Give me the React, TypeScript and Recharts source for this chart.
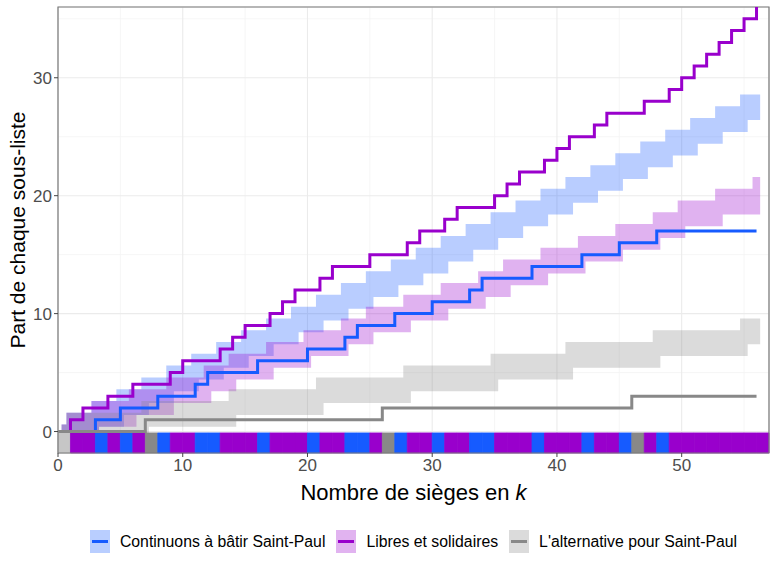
import React from "react";
import {
  ComposedChart,
  Area,
  Line,
  XAxis,
  YAxis,
  CartesianGrid,
  ReferenceArea,
  Label,
} from "recharts";

const FONT = "'Liberation Sans', Arial, Helvetica, sans-serif";

const LIST_NAMES = [
  "Continuons à bâtir Saint-Paul",
  "Libres et solidaires",
  "L'alternative pour Saint-Paul",
];
const LIST_COLORS = ["#165bff", "#9900cc", "#888888"];
const NO_LIST_COLOR = "#c6c6c6";

// who gets seat 1..57 (0 = Continuons, 1 = Libres, 2 = L'alternative, -1 = none)
const seatOrder = [
  -1, 1, 1, 0, 1, 0, 1, 2, 0, 1,
  1, 0, 0, 1, 1, 1, 0, 1, 1, 1,
  0, 1, 1, 0, 0, 1, 2, 0, 1, 1,
  0, 1, 1, 0, 0, 1, 1, 1, 0, 1,
  1, 1, 0, 1, 1, 0, 2, 1, 0, 1,
  1, 1, 1, 1, 1, 1, 1,
];

// seats held by each list, drawn at k = 0..56
const contSeats = [
  0, 0, 0, 1, 1, 2, 2, 2, 3, 3, 3, 4, 5, 5, 5, 5, 6, 6, 6, 6,
  7, 7, 7, 8, 9, 9, 9, 10, 10, 10, 11, 11, 11, 12, 13, 13, 13, 13, 14, 14,
  14, 14, 15, 15, 15, 16, 16, 16, 17, 17, 17, 17, 17, 17, 17, 17, 17,
];
const libresSeats = [
  0, 1, 2, 2, 3, 3, 4, 4, 4, 5, 6, 6, 6, 7, 8, 9, 9, 10, 11, 12,
  12, 13, 14, 14, 14, 15, 15, 15, 16, 17, 17, 18, 19, 19, 19, 20, 21, 22, 22, 23,
  24, 25, 25, 26, 27, 27, 27, 28, 28, 29, 30, 31, 32, 33, 34, 35, 36,
];
const altSeats = [
  0, 0, 0, 0, 0, 0, 0, 1, 1, 1, 1, 1, 1, 1, 1, 1, 1, 1, 1, 1,
  1, 1, 1, 1, 1, 1, 2, 2, 2, 2, 2, 2, 2, 2, 2, 2, 2, 2, 2, 2,
  2, 2, 2, 2, 2, 2, 3, 3, 3, 3, 3, 3, 3, 3, 3, 3, 3,
];

// fair-share range: integer bounds and the seat count k where each one changes
const contUpperK = [0, 1, 3, 5, 7, 9, 11, 13, 15, 17, 19, 21, 23, 25, 27, 29, 31, 33, 35, 37, 39, 41, 43, 45, 47, 49, 51, 53, 55];
const contUpper = [1, 2, 3, 4, 5, 6, 7, 8, 9, 10, 11, 12, 13, 14, 15, 16, 17, 18, 19, 20, 21, 22, 23, 24, 25, 26, 27, 28, 29];
const contLowerK = [0, 3, 5, 7, 9, 11, 13, 15, 17, 19, 21, 23, 25, 27, 29, 31, 33, 35, 37, 39, 41, 43, 45, 47, 49, 51, 53, 55];
const contLower = [-1, 0, 1, 2, 3, 4, 5, 6, 7, 8, 9, 10, 11, 12, 13, 14, 15, 16, 17, 18, 19, 20, 21, 22, 23, 24, 25, 26];

const libresUpperK = [0, 1, 3, 6, 9, 12, 14, 17, 20, 23, 25, 28, 31, 34, 36, 39, 42, 45, 48, 50, 53, 56];
const libresUpper = [1, 2, 3, 4, 5, 6, 7, 8, 9, 10, 11, 12, 13, 14, 15, 16, 17, 18, 19, 20, 21, 22];
const libresLowerK = [0, 3, 6, 9, 12, 14, 17, 20, 23, 25, 28, 31, 34, 36, 39, 42, 45, 48, 50, 53, 56];
const libresLower = [-1, 0, 1, 2, 3, 4, 5, 6, 7, 8, 9, 10, 11, 12, 13, 14, 15, 16, 17, 18, 19];

const altUpperK = [0, 1, 7, 14, 21, 28, 35, 41, 48, 55];
const altUpper = [1, 2, 3, 4, 5, 6, 7, 8, 9, 10];
const altLowerK = [0, 7, 14, 21, 28, 35, 41, 48, 55];
const altLower = [-1, 0, 1, 2, 3, 4, 5, 6, 7];

const xTicks = [0, 10, 20, 30, 40, 50];
const xMinorTicks = [5, 15, 25, 35, 45, 55];
const yTicks = [0, 10, 20, 30];
const yMinorTicks = [5, 15, 25, 35];

const X_DOMAIN = [0, 57];
const Y_DOMAIN = [-1.82, 36];
const TILE_TOP = -0.12;

// how the ribbons are drawn around the integer bounds
const BAND_START = 0.29;
const BAND_END = 56.29;
const UPPER_SHIFT = -0.32;
const LOWER_SHIFT = 0.29;
const BAND_INSET = 0.41;

function bandTable(upperK, upper, lowerK, lower) {
  const events = [];
  upperK.forEach((k, i) => events.push({ x: Math.max(BAND_START, k + UPPER_SHIFT), u: upper[i] }));
  lowerK.forEach((k, i) => events.push({ x: Math.max(BAND_START, k + LOWER_SHIFT), l: lower[i] }));
  events.sort((a, b) => a.x - b.x);
  let u = upper[0];
  let l = lower[0];
  const rows = [];
  events.forEach((e) => {
    if (e.x > BAND_END) return;
    if (e.u !== undefined) u = e.u;
    if (e.l !== undefined) l = e.l;
    const row = { x: e.x, range: [l + BAND_INSET, u - BAND_INSET] };
    if (rows.length && rows[rows.length - 1].x === e.x) rows[rows.length - 1] = row;
    else rows.push(row);
  });
  rows.push({ x: BAND_END, range: [l + BAND_INSET, u - BAND_INSET] });
  return rows;
}

const bands = [
  bandTable(contUpperK, contUpper, contLowerK, contLower),
  bandTable(libresUpperK, libresUpper, libresLowerK, libresLower),
  bandTable(altUpperK, altUpper, altLowerK, altLower),
];

const lineData = contSeats.map((v, i) => ({
  x: i,
  cont: v,
  libres: libresSeats[i],
  alt: altSeats[i],
}));
const lineKeys = ["cont", "libres", "alt"];

function XTitle({ viewBox }: any) {
  return (
    <text
      x={viewBox.x + viewBox.width / 2}
      y={viewBox.y + 47}
      textAnchor="middle"
      fontSize={22}
      fill="#000"
    >
      Nombre de sièges en <tspan fontStyle="italic">k</tspan>
    </text>
  );
}

function YTitle({ viewBox }: any) {
  const cx = viewBox.x + 17;
  const cy = viewBox.y + viewBox.height / 2;
  return (
    <text
      x={cx}
      y={cy}
      transform={`rotate(-90 ${cx} ${cy})`}
      textAnchor="middle"
      dominantBaseline="central"
      fontSize={21}
      fill="#000"
    >
      Part de chaque sous-liste
    </text>
  );
}

function LegendKey({ color }) {
  return (
    <span
      style={{
        position: "relative",
        display: "inline-block",
        width: 20,
        height: 23,
        background: color,
        marginRight: 10,
      }}
    >
      <span style={{ position: "absolute", inset: 0, background: "#fff", opacity: 0.7 }} />
      <span
        style={{
          position: "absolute",
          left: 2,
          right: 2,
          top: 10,
          height: 3,
          background: color,
        }}
      />
    </span>
  );
}

export default function App() {
  return (
    <div
      style={{
        position: "absolute",
        left: 0,
        top: 0,
        width: 776,
        height: 567,
        background: "#fff",
        fontFamily: FONT,
      }}
    >
      <ComposedChart
        width={776}
        height={567}
        data={lineData}
        margin={{ top: 7, right: 7, bottom: 69, left: 0 }}
      >
        <XAxis xAxisId="minor" type="number" dataKey="x" domain={X_DOMAIN} ticks={xMinorTicks} hide allowDataOverflow />
        <YAxis yAxisId="minor" type="number" domain={Y_DOMAIN} ticks={yMinorTicks} hide allowDataOverflow />
        <CartesianGrid xAxisId="minor" yAxisId="minor" stroke="#f4f4f4" strokeWidth={0.8} />
        <CartesianGrid stroke="#ebebeb" strokeWidth={1.1} />
        <XAxis
          type="number"
          dataKey="x"
          domain={X_DOMAIN}
          ticks={xTicks}
          allowDataOverflow
          height={45}
          tickSize={4}
          tickMargin={2}
          axisLine={false}
          tickLine={{ stroke: "#444" }}
          tick={{ fontSize: 17, fill: "#4d4d4d" }}
        >
          <Label content={XTitle} />
        </XAxis>
        <YAxis
          type="number"
          domain={Y_DOMAIN}
          ticks={yTicks}
          allowDataOverflow
          width={58}
          tickSize={4}
          tickMargin={2}
          axisLine={false}
          tickLine={{ stroke: "#444" }}
          tick={{ fontSize: 17, fill: "#4d4d4d" }}
        >
          <Label content={YTitle} />
        </YAxis>
        {bands.map((table, i) => (
          <Area
            key={`band-${i}`}
            data={table}
            dataKey="range"
            type="stepAfter"
            stroke="none"
            fill={LIST_COLORS[i]}
            fillOpacity={0.3}
            isAnimationActive={false}
            activeDot={false}
          />
        ))}
        {seatOrder.map((owner, i) => {
          const c = owner < 0 ? NO_LIST_COLOR : LIST_COLORS[owner];
          return (
            <ReferenceArea
              key={`seat-${i}`}
              x1={i}
              x2={i + 1}
              y1={Y_DOMAIN[0]}
              y2={TILE_TOP}
              fill={c}
              fillOpacity={1}
              stroke={c}
              strokeWidth={0.8}
            />
          );
        })}
        {lineKeys.map((key, i) => (
          <Line
            key={key}
            dataKey={key}
            type="stepAfter"
            stroke={LIST_COLORS[i]}
            strokeWidth={3}
            dot={false}
            activeDot={false}
            isAnimationActive={false}
          />
        ))}
        <ReferenceArea
          x1={X_DOMAIN[0]}
          x2={X_DOMAIN[1]}
          y1={Y_DOMAIN[0]}
          y2={Y_DOMAIN[1]}
          fill="none"
          stroke="#7a7a7a"
          strokeWidth={1.2}
          ifOverflow="visible"
        />
      </ComposedChart>
      <div
        style={{
          position: "absolute",
          left: 58,
          width: 711,
          top: 530,
          display: "flex",
          justifyContent: "center",
          alignItems: "center",
          fontSize: 15.8,
          color: "#000",
        }}
      >
        {LIST_NAMES.map((name, i) => (
          <span key={name} style={{ display: "flex", alignItems: "center", marginRight: i < 2 ? 11 : 0 }}>
            <LegendKey color={LIST_COLORS[i]} />
            <span>{name}</span>
          </span>
        ))}
      </div>
    </div>
  );
}
